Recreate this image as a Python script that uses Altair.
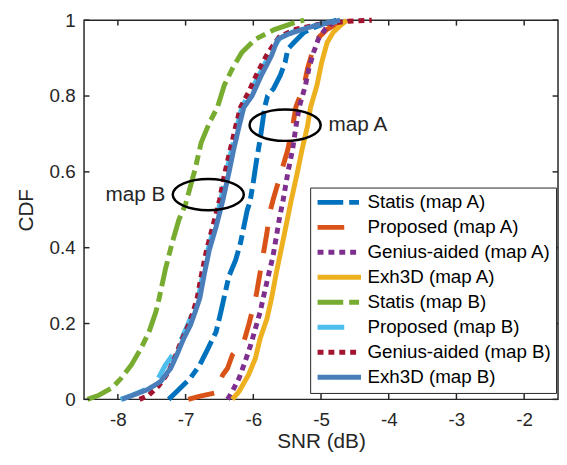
import altair as alt
import pandas as pd

series_names = ["Statis (map A)", "Proposed (map A)", "Genius-aided (map A)", "Exh3D (map A)",
                "Statis (map B)", "Proposed (map B)", "Genius-aided (map B)", "Exh3D (map B)"]
colors = ["#0072BD", "#D95319", "#7E2F8E", "#EDB120", "#77AC30", "#4DBEEE", "#A2142F", "#4A7EBB"]
dashes = [[26, 6, 10, 6], [27, 18], [6, 5], [1, 0], [26, 6, 10, 6], [27, 18], [6, 5], [1, 0]]
widths = [5, 5, 5.5, 5, 5, 5, 5.5, 7]

statis_a = [(-7.25, 0.0), (-7.13, 0.021), (-6.93, 0.056), (-6.79, 0.091), (-6.67, 0.134), (-6.55, 0.178),
            (-6.48, 0.23), (-6.43, 0.27), (-6.36, 0.325), (-6.26, 0.368), (-6.19, 0.412), (-6.14, 0.455),
            (-6.09, 0.499), (-6.05, 0.52), (-6.00, 0.573), (-5.95, 0.633), (-5.90, 0.685), (-5.83, 0.772),
            (-5.79, 0.80), (-5.70, 0.82), (-5.60, 0.855), (-5.53, 0.889), (-5.49, 0.924), (-5.40, 0.941),
            (-5.25, 0.968), (-5.11, 0.98), (-4.91, 0.993), (-4.77, 1.0)]
proposed_a = [(-6.96, 0.0), (-6.80, 0.008), (-6.57, 0.017), (-6.53, 0.034), (-6.45, 0.065), (-6.38, 0.082),
              (-6.31, 0.117), (-6.24, 0.13), (-6.14, 0.152), (-6.07, 0.195), (-6.02, 0.23), (-5.97, 0.264),
              (-5.95, 0.282), (-5.90, 0.334), (-5.85, 0.386), (-5.80, 0.438), (-5.76, 0.49), (-5.71, 0.525),
              (-5.59, 0.598), (-5.49, 0.659), (-5.42, 0.72), (-5.37, 0.772), (-5.25, 0.828), (-5.20, 0.872),
              (-5.13, 0.915), (-5.06, 0.95), (-4.91, 0.976), (-4.77, 0.99), (-4.63, 1.0)]
genius_a = [(-6.38, 0.0), (-6.31, 0.021), (-6.21, 0.056), (-6.12, 0.10), (-6.04, 0.143), (-5.97, 0.186),
            (-5.90, 0.23), (-5.85, 0.27), (-5.78, 0.325), (-5.71, 0.377), (-5.66, 0.429), (-5.61, 0.482),
            (-5.56, 0.525), (-5.49, 0.598), (-5.42, 0.659), (-5.37, 0.72), (-5.32, 0.772), (-5.23, 0.828),
            (-5.18, 0.872), (-5.11, 0.915), (-5.04, 0.95), (-4.94, 0.976), (-4.82, 0.993), (-4.72, 1.0)]
exh3d_a = [(-6.31, 0.0), (-6.21, 0.021), (-6.07, 0.065), (-5.97, 0.108), (-5.90, 0.16), (-5.80, 0.212),
           (-5.73, 0.267), (-5.66, 0.334), (-5.59, 0.394), (-5.52, 0.455), (-5.44, 0.525), (-5.35, 0.598),
           (-5.28, 0.659), (-5.20, 0.72), (-5.155, 0.77), (-5.06, 0.828), (-4.99, 0.889), (-4.91, 0.941),
           (-4.82, 0.968), (-4.72, 0.985), (-4.62, 1.0)]
statis_b = [(-8.45, 0.0), (-8.28, 0.011), (-8.09, 0.03), (-7.95, 0.056), (-7.80, 0.091), (-7.66, 0.134),
            (-7.54, 0.178), (-7.44, 0.23), (-7.39, 0.267), (-7.30, 0.342), (-7.20, 0.412), (-7.10, 0.473),
            (-7.00, 0.515), (-6.86, 0.607), (-6.77, 0.677), (-6.65, 0.729), (-6.53, 0.77), (-6.43, 0.828),
            (-6.31, 0.872), (-6.17, 0.915), (-5.97, 0.95), (-5.68, 0.976), (-5.40, 0.993), (-5.25, 1.0)]
proposed_b = [(-7.96, 0.0), (-7.80, 0.01), (-7.60, 0.025), (-7.42, 0.05), (-7.30, 0.09), (-7.18, 0.12),
              (-7.06, 0.16), (-6.96, 0.20), (-6.88, 0.235), (-6.81, 0.27), (-6.74, 0.334), (-6.67, 0.394),
              (-6.58, 0.455), (-6.48, 0.525), (-6.40, 0.598), (-6.32, 0.659), (-6.24, 0.72), (-6.17, 0.77),
              (-6.05, 0.81), (-5.90, 0.86), (-5.76, 0.91), (-5.61, 0.952), (-5.35, 0.975), (-5.00, 0.99),
              (-4.75, 0.997), (-4.52, 1.0)]
genius_b = [(-7.68, 0.0), (-7.55, 0.01), (-7.40, 0.035), (-7.26, 0.07), (-7.16, 0.11), (-7.06, 0.155),
            (-6.96, 0.195), (-6.89, 0.23), (-6.83, 0.267), (-6.76, 0.334), (-6.69, 0.394), (-6.60, 0.455),
            (-6.50, 0.525), (-6.42, 0.598), (-6.34, 0.659), (-6.26, 0.72), (-6.19, 0.77), (-6.07, 0.81),
            (-5.93, 0.865), (-5.78, 0.915), (-5.62, 0.955), (-5.40, 0.975), (-5.00, 0.99), (-4.60, 0.997),
            (-4.25, 1.0)]
exh3d_b = [(-7.94, 0.0), (-7.75, 0.013), (-7.56, 0.026), (-7.37, 0.047), (-7.22, 0.082), (-7.13, 0.117),
           (-7.03, 0.16), (-6.93, 0.195), (-6.86, 0.23), (-6.79, 0.267), (-6.72, 0.334), (-6.65, 0.394),
           (-6.55, 0.455), (-6.45, 0.525), (-6.36, 0.598), (-6.29, 0.659), (-6.21, 0.72), (-6.14, 0.77),
           (-6.02, 0.80), (-5.88, 0.855), (-5.73, 0.907), (-5.64, 0.95), (-5.49, 0.963), (-5.20, 0.98),
           (-4.91, 0.993), (-4.72, 1.0)]

x_ticks = [-8, -7, -6, -5, -4, -3, -2]
y_ticks = [0, 0.2, 0.4, 0.6, 0.8, 1]

ann_labels = ["map A", "map B"]
ann_ell_x = [-5.53, -6.665]
ann_ell_y = [0.723, 0.54]
ann_text_x = [-4.89, -7.30]

all_series = [statis_a, proposed_a, genius_a, exh3d_a, statis_b, proposed_b, genius_b, exh3d_b]
rows = []
for name, pts in zip(series_names, all_series):
    for i, (sx, sy) in enumerate(pts):
        rows.append({"series": name, "snr": sx, "cdf": sy, "idx": i})
df = pd.DataFrame(rows)

FONT = "Liberation Sans"
W, H = 480, 384

legend = alt.Legend(orient="none", legendX=229, legendY=169.5, symbolType="stroke", symbolSize=1936,
                    labelFont=FONT, labelFontSize=19, labelColor="black", padding=5, rowPadding=5.3,
                    clipHeight=20, labelOffset=4, strokeColor="#262626", fillColor="white",
                    labelLimit=400, symbolOffset=0)

xscale = alt.Scale(domain=[-8.5, -1.5], nice=False, zero=False)
yscale = alt.Scale(domain=[0, 1], nice=False, zero=False)

lines = alt.Chart(df).mark_line(strokeCap="butt", strokeJoin="round").encode(
    x=alt.X("snr:Q", scale=xscale, title="SNR (dB)",
            axis=alt.Axis(values=x_ticks, labelExpr="datum.value + ''", ticks=False, domain=False, grid=False,
                          labelFont=FONT, labelFontSize=19, labelColor="#262626", labelPadding=11,
                          titleFont=FONT, titleFontSize=21, titleFontWeight="normal", titleColor="#262626",
                          titleY=43, titleBaseline="middle")),
    y=alt.Y("cdf:Q", scale=yscale, title="CDF",
            axis=alt.Axis(values=y_ticks, labelExpr="datum.value + ''", ticks=False, domain=False, grid=False,
                          labelFont=FONT, labelFontSize=19, labelColor="#262626", labelPadding=9,
                          titleFont=FONT, titleFontSize=21, titleFontWeight="normal", titleColor="#262626",
                          titleX=-58, titleY=H / 2, titleAngle=270, titleBaseline="middle")),
    color=alt.Color("series:N", scale=alt.Scale(domain=series_names, range=colors), title=None, legend=legend),
    strokeDash=alt.StrokeDash("series:N", scale=alt.Scale(domain=series_names, range=dashes), title=None,
                              legend=legend),
    strokeWidth=alt.StrokeWidth("series:N", scale=alt.Scale(domain=series_names, range=widths), title=None,
                                legend=legend),
    order=alt.Order("idx:Q"),
)

xt_df = pd.DataFrame({"v": x_ticks})
yt_df = pd.DataFrame({"v": y_ticks})
tick_style = dict(color="#262626", strokeWidth=1.5)
xt_bottom = alt.Chart(xt_df).mark_rule(**tick_style).encode(
    x=alt.X("v:Q", scale=xscale), y=alt.value(H), y2=alt.value(H - 5.5))
xt_top = alt.Chart(xt_df).mark_rule(**tick_style).encode(
    x=alt.X("v:Q", scale=xscale), y=alt.value(0), y2=alt.value(5.5))
yt_left = alt.Chart(yt_df).mark_rule(**tick_style).encode(
    y=alt.Y("v:Q", scale=yscale), x=alt.value(0), x2=alt.value(5.5))
yt_right = alt.Chart(yt_df).mark_rule(**tick_style).encode(
    y=alt.Y("v:Q", scale=yscale), x=alt.value(W), x2=alt.value(W - 5.5))

ell_df = pd.DataFrame({"x": ann_ell_x, "y": ann_ell_y})
ellipses = alt.Chart(ell_df).mark_point(
    shape="M-1,0A1,0.44,0,1,1,1,0A1,0.44,0,1,1,-1,0Z", size=5184, filled=False,
    color="black", strokeWidth=2.5, opacity=1).encode(
    x=alt.X("x:Q", scale=xscale), y=alt.Y("y:Q", scale=yscale))

txt_a = alt.Chart(pd.DataFrame({"x": [ann_text_x[0]], "y": [ann_ell_y[0]], "t": [ann_labels[0]]})).mark_text(
    align="left", baseline="middle", font=FONT, fontSize=21, color="#262626").encode(
    x=alt.X("x:Q", scale=xscale), y=alt.Y("y:Q", scale=yscale), text="t:N")
txt_b = alt.Chart(pd.DataFrame({"x": [ann_text_x[1]], "y": [ann_ell_y[1]], "t": [ann_labels[1]]})).mark_text(
    align="right", baseline="middle", font=FONT, fontSize=21, color="#262626").encode(
    x=alt.X("x:Q", scale=xscale), y=alt.Y("y:Q", scale=yscale), text="t:N")

chart = alt.layer(lines, xt_bottom, xt_top, yt_left, yt_right, ellipses, txt_a, txt_b).properties(
    width=W, height=H,
    padding={"left": 77, "top": 9.5, "right": 1, "bottom": 54.5},
    autosize=alt.AutoSizeParams(type="none"),
    background="white",
).configure_view(stroke="#262626", strokeWidth=1.5)

chart.save("out.html", embed_options={"renderer": "svg", "actions": False})
